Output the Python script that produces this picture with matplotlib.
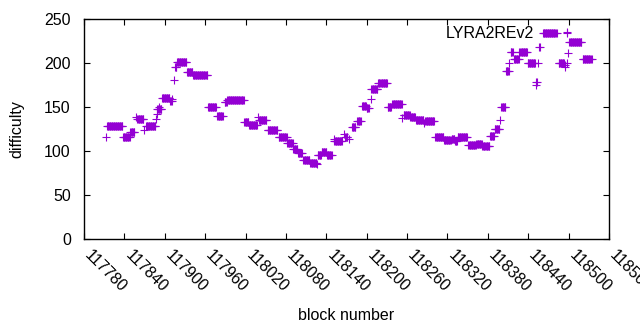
import numpy as np
import matplotlib
matplotlib.use("Agg")
import matplotlib.pyplot as plt

plt.rcParams['font.family'] = ['Liberation Sans', 'DejaVu Sans']
plt.rcParams['font.size'] = 11.5

# runs of blocks with the same difficulty (start block, end block, difficulty)
run_start = [117813, 117814, 117838, 117849, 117857, 117859, 117869, 117872, 117887, 117888,
             117889, 117892, 117896, 117908, 117911, 117914, 117915, 117918, 117933, 117942,
             117964, 117978, 117989, 117993, 118018, 118025, 118038, 118040, 118053, 118069,
             118082, 118091, 118098, 118106, 118116, 118126, 118127, 118133, 118141, 118151,
             118152, 118166, 118168, 118173, 118178, 118186, 118193, 118200, 118206, 118207,
             118217, 118231, 118238, 118253, 118255, 118265, 118273, 118285, 118287, 118302,
             118315, 118326, 118331, 118335, 118351, 118363, 118372, 118383, 118390, 118398,
             118400, 118407, 118412, 118414, 118419, 118427, 118439, 118451, 118452, 118455,
             118456, 118462, 118485, 118494, 118495, 118497, 118498, 118499, 118501, 118521]
run_end = [117813, 117837, 117848, 117855, 117857, 117868, 117869, 117886, 117887, 117888,
           117895, 117892, 117907, 117910, 117911, 117914, 117917, 117932, 117941, 117963,
           117976, 117986, 117992, 118017, 118024, 118037, 118038, 118051, 118067, 118081,
           118090, 118097, 118104, 118115, 118125, 118126, 118132, 118140, 118148, 118151,
           118163, 118166, 118171, 118173, 118183, 118191, 118199, 118203, 118206, 118216,
           118230, 118236, 118252, 118253, 118264, 118272, 118284, 118285, 118300, 118314,
           118325, 118330, 118334, 118349, 118362, 118371, 118382, 118389, 118397, 118398,
           118406, 118411, 118412, 118417, 118426, 118438, 118450, 118451, 118453, 118455,
           118457, 118482, 118493, 118494, 118495, 118497, 118498, 118499, 118519, 118534]
run_diff = [116.6, 128.4, 116.0, 122.3, 139.3, 136.4, 124.2, 128.4, 136.7, 142.4,
            148.0, 150.7, 160.2, 157.5, 160.0, 180.7, 195.5, 201.1, 189.8, 186.4,
            150.7, 140.1, 156.4, 158.0, 133.0, 129.5, 138.6, 135.6, 123.9, 116.0,
            109.1, 102.3, 98.4, 90.5, 87.0, 85.2, 95.5, 98.9, 95.5, 113.6,
            111.7, 119.7, 116.6, 114.0, 128.0, 134.4, 151.8, 148.9, 159.1, 170.5,
            177.6, 150.7, 153.4, 137.5, 141.6, 139.3, 135.6, 131.8, 134.1, 116.0,
            112.8, 113.6, 112.0, 116.0, 107.5, 108.5, 106.0, 117.4, 125.0, 135.6,
            150.7, 190.9, 200.0, 212.5, 204.5, 212.5, 200.0, 175.3, 179.1, 200.0,
            218.2, 234.0, 200.0, 198.0, 195.5, 200.5, 234.8, 211.4, 223.9, 204.5]

xtick_vals = list(range(117780, 118561, 60))

blocks = []
diffs = []
for s, e, d in zip(run_start, run_end, run_diff):
    for b in range(s, e + 1):
        blocks.append(b)
        diffs.append(d)

fig = plt.figure(figsize=(6.4, 3.3), dpi=100)
ax = fig.add_axes([84 / 640, 1 - 239.3 / 330, 525 / 640, 220 / 330])

ax.plot(blocks, diffs, linestyle='none', marker='+', markersize=5.2,
        markeredgewidth=0.8, color='#9400D3', label='LYRA2REv2')

ax.set_xlim(117780, 118560)
ax.set_ylim(0, 250)
ax.set_xticks(xtick_vals)
ax.set_xticklabels([str(v) for v in xtick_vals], rotation=-45, ha='left',
                   va='baseline', rotation_mode='anchor')
ax.set_yticks(range(0, 251, 50))
ax.tick_params(direction='in', length=4.5, width=0.8, top=True, right=True,
               colors='black', pad=9.5)
ax.tick_params(axis='x', pad=12)
for sp in ax.spines.values():
    sp.set_linewidth(1.0)

ax.set_xlabel('block number', labelpad=9)
ax.set_ylabel('difficulty', labelpad=14)

ax.legend(loc='upper right', bbox_to_anchor=(0.981, 1.02), markerfirst=False,
          frameon=False, handlelength=2.6, handletextpad=0.8, borderpad=0.2)

fig.savefig('out.png', dpi=100)
